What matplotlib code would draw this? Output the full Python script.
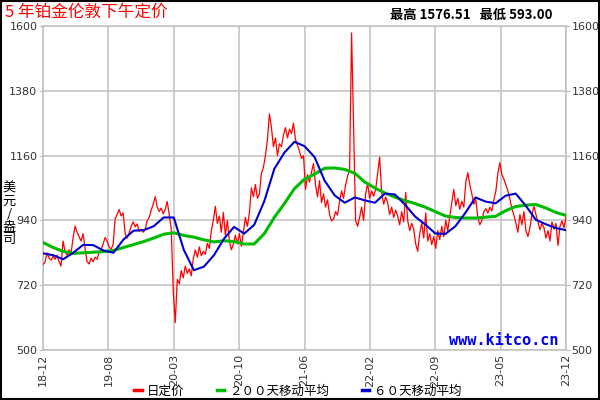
import matplotlib
matplotlib.use("Agg")
import matplotlib.pyplot as plt
import numpy as np
from matplotlib.patches import Rectangle
from matplotlib.lines import Line2D

plt.rcParams['font.family'] = ['Noto Sans CJK SC', 'DejaVu Sans']

# daily fixing, sampled roughly every 2 px across the 5-year span
price = [790, 798, 830, 812, 805, 818, 808, 822, 800, 785, 870, 835, 822, 840, 828,
         880, 921, 900, 885, 870, 895, 845, 800, 792, 812, 800, 815, 808, 830, 840,
         860, 882, 870, 850, 842, 858, 945, 960, 977, 955, 965, 895, 880, 898, 920,
         935, 918, 928, 903, 910, 900, 908, 940, 950, 975, 995, 1021, 985, 970, 982,
         962, 978, 1004, 960, 910, 700, 593, 740, 725, 770, 745, 785, 760, 775, 752,
         810, 840, 815, 850, 820, 835, 825, 862, 845, 905, 940, 988, 930, 955, 900,
         967, 890, 940, 870, 840, 860, 890, 860, 895, 852, 900, 950, 920, 965, 1050,
         1020, 1062, 1015, 1030, 1100, 1120, 1160, 1215, 1302, 1255, 1190, 1220, 1160, 1200, 1190,
         1230, 1255, 1220, 1250, 1235, 1270, 1215, 1195, 1175, 1150, 1160, 1045, 1095, 1070, 1105,
         1133, 1060, 1020, 1075, 1000, 1030, 985, 1010, 960, 938, 945, 970, 958, 1005, 1040,
         1015, 1060, 1090, 1110, 1576.51, 1262, 940, 920, 950, 985, 940, 1030, 1065, 1015, 1040,
         1022, 1045, 1100, 1155, 1035, 995, 1020, 1000, 960, 985, 950, 975, 955, 925, 970,
         935, 1035, 940, 905, 930, 910, 860, 835, 895, 930, 880, 965, 870, 895, 858,
         885, 845, 905, 875, 920, 885, 940, 905, 955, 1000, 1045, 990, 1015, 978, 1005,
         985, 1070, 1102, 1060, 1030, 995, 1010, 950, 925, 940, 970, 980, 965, 985, 972,
         1010, 1040, 1100, 1136, 1095, 1080, 1060, 1040, 1012, 980, 958, 930, 900, 960, 925,
         970, 905, 885, 915, 960, 988, 960, 935, 908, 930, 915, 880, 905, 870, 935,
         910, 930, 855, 920, 938, 915, 952]

ma200 = [865, 848, 835, 828, 830, 832, 834, 838, 848, 858, 868, 880, 893, 898, 889,
         883, 874, 867, 871, 868, 860, 860, 895, 950, 997, 1048, 1080, 1097, 1117, 1118,
         1113, 1100, 1070, 1050, 1033, 1019, 1007, 997, 985, 970, 955, 950, 948, 948, 951,
         954, 973, 987, 992, 994, 982, 967, 957]

ma60 = [828, 822, 808, 830, 857, 856, 838, 830, 875, 905, 907, 920, 950, 950, 840,
        771, 783, 822, 878, 918, 895, 925, 1005, 1115, 1170, 1207, 1192, 1155, 1075, 1025,
        1000, 1018, 1008, 1000, 1031, 1028, 993, 953, 926, 896, 894, 920, 966, 1018, 1004,
        998, 1024, 1031, 990, 942, 927, 914, 907]

tick_labels = ['18-12', '19-08', '20-03', '20-10', '21-06', '22-02', '22-09', '23-05', '23-12']
y_ticks = [500, 720, 940, 1160, 1380, 1600]

span = 60.0
x_price = np.linspace(0, span, len(price))
x_ma200 = np.linspace(0, span, len(ma200))
x_ma60 = np.linspace(0, span, len(ma60))

fig = plt.figure(figsize=(6, 4), dpi=100)
ax = fig.add_axes([43 / 600, 1 - 350 / 400, 523 / 600, 324 / 400])

ax.plot(x_price, price, color='#ff0000', lw=0.9, zorder=3)
ax.plot(x_ma200, ma200, color='#00bb00', lw=2.2, zorder=4)
ax.plot(x_ma60, ma60, color='#0000cc', lw=1.5, zorder=5)

ax.set_xlim(0, span)
ax.set_ylim(500, 1600)
ax.set_xticks(np.linspace(0, span, len(tick_labels)))
ax.set_xticklabels(tick_labels, rotation=90, fontsize=8, color='#333333', family='DejaVu Sans')
ax.set_yticks(y_ticks)
ax.set_yticklabels([str(v) for v in y_ticks], fontsize=8, color='#333333', family='DejaVu Sans')
ax.tick_params(axis='y', which='both', left=True, right=True, labelleft=True, labelright=True,
               length=3, color='#bbbbbb', pad=1)
ax.tick_params(axis='x', length=0, pad=3)
ax.grid(True, color='#c0c0c0', lw=1.1)
for sp in ax.spines.values():
    sp.set_color('#c0c0c0')
    sp.set_linewidth(1.1)

ax.text(0.985, 0.005, 'www.kitco.cn', transform=ax.transAxes, ha='right', va='bottom',
        color='#0000ee', fontsize=11, fontweight='bold', family='DejaVu Sans Mono', zorder=6)

fig.text(5 / 600, 1 - 12 / 400, '5 年铂金伦敦下午定价', color='#ff0000', fontsize=12,
         ha='left', va='center')
fig.text(553 / 600, 1 - 15 / 400, '最高 1576.51   最低 593.00', color='black', fontsize=9.5,
         ha='right', va='center', fontweight='bold')
fig.text(9 / 600, 1 - 214 / 400, '美\n元\n/\n盎\n司', color='black', fontsize=9.5,
         ha='center', va='center', linespacing=1.0)

handles = [Line2D([], [], color='#ff0000', lw=2.5),
           Line2D([], [], color='#00bb00', lw=2.5),
           Line2D([], [], color='#0000cc', lw=2.5)]
fig.legend(handles, ['日定价', '２００天移动平均', '６０天移动平均'], loc='center',
           bbox_to_anchor=(298 / 600, 1 - 391 / 400), ncol=3, frameon=False, fontsize=9,
           handlelength=0.6, handletextpad=0.4, columnspacing=2.6, borderpad=0)

fig.patches.append(Rectangle((0.001, 0.002), 0.997, 0.996, transform=fig.transFigure,
                             fill=False, edgecolor='black', lw=1.5))

fig.savefig('out.png', dpi=100)
